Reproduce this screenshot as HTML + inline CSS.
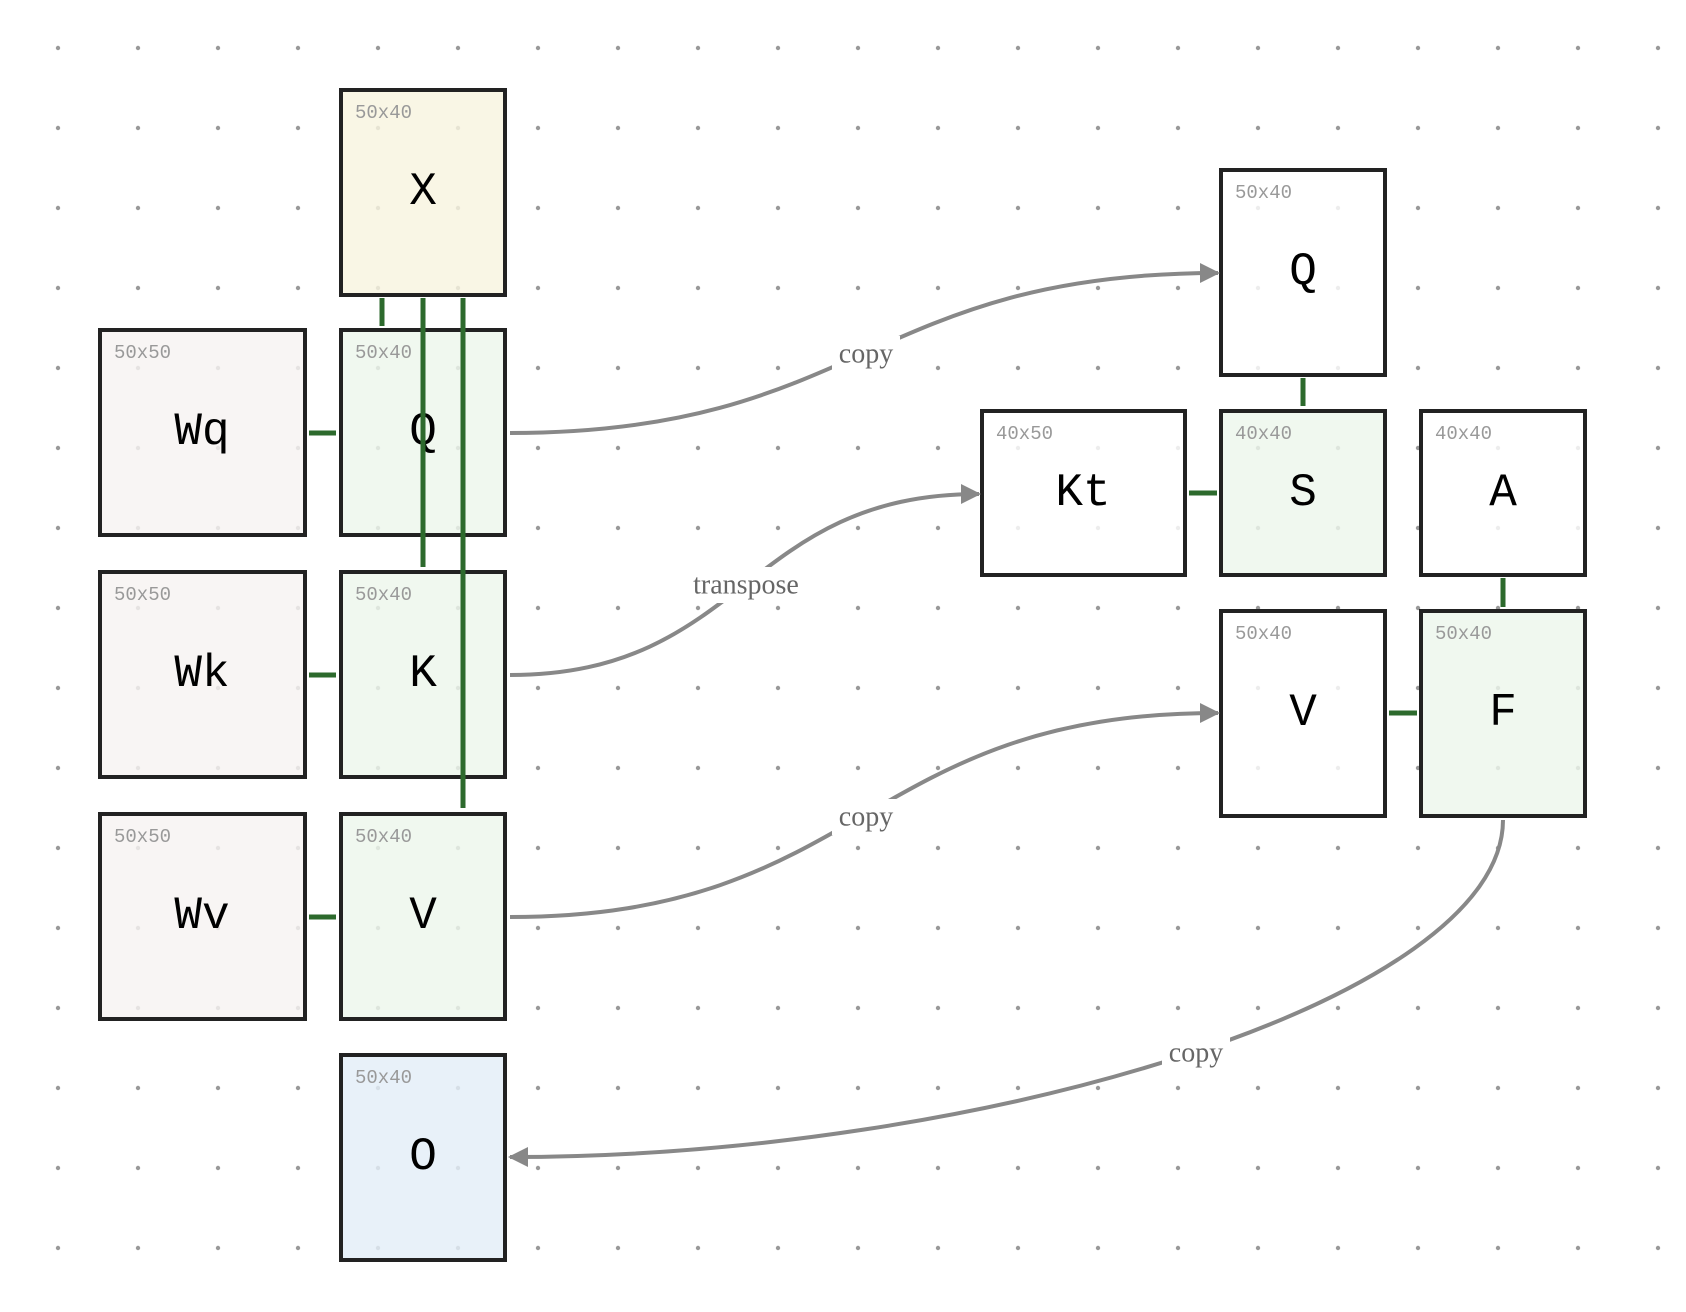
<!DOCTYPE html>
<html><head><meta charset="utf-8"><style>html,body{margin:0;padding:0;background:#fff}svg{display:block}</style></head>
<body>
<svg width="1686" height="1312" viewBox="0 0 1686 1312" xmlns="http://www.w3.org/2000/svg">
<defs>
<pattern id="dots" x="18" y="8" width="80" height="80" patternUnits="userSpaceOnUse"><circle cx="40" cy="40" r="2.2" fill="#999"/></pattern>
<marker id="ah" viewBox="0 0 10 10" refX="9" refY="5" markerWidth="5" markerHeight="5" orient="auto" markerUnits="strokeWidth"><path d="M0,0 L10,5 L0,10 z" fill="#888"/></marker>
</defs>
<rect x="18" y="8" width="1680" height="1280" fill="url(#dots)"/>
<g stroke="#222" stroke-width="4" fill-opacity="0.82">
<rect x="341" y="90" width="164" height="205" fill="#f8f4df"/>
<rect x="100" y="330" width="205" height="205" fill="#f7f3f2"/>
<rect x="341" y="330" width="164" height="205" fill="#edf7ec"/>
<rect x="100" y="572" width="205" height="205" fill="#f7f3f2"/>
<rect x="341" y="572" width="164" height="205" fill="#edf7ec"/>
<rect x="100" y="814" width="205" height="205" fill="#f7f3f2"/>
<rect x="341" y="814" width="164" height="205" fill="#edf7ec"/>
<rect x="341" y="1055" width="164" height="205" fill="#e3eef8"/>
<rect x="1221" y="170" width="164" height="205" fill="#fff"/>
<rect x="982" y="411" width="203" height="164" fill="#fff"/>
<rect x="1221" y="411" width="164" height="164" fill="#edf7ec"/>
<rect x="1421" y="411" width="164" height="164" fill="#fff"/>
<rect x="1221" y="611" width="164" height="205" fill="#fff"/>
<rect x="1421" y="611" width="164" height="205" fill="#edf7ec"/>
</g>
<g font-family="Liberation Mono, monospace" font-size="19" fill="#999">
<text x="355" y="118">50x40</text>
<text x="114" y="358">50x50</text><text x="355" y="358">50x40</text>
<text x="114" y="600">50x50</text><text x="355" y="600">50x40</text>
<text x="114" y="842">50x50</text><text x="355" y="842">50x40</text>
<text x="355" y="1083">50x40</text>
<text x="1235" y="198">50x40</text>
<text x="996" y="439">40x50</text><text x="1235" y="439">40x40</text><text x="1435" y="439">40x40</text>
<text x="1235" y="639">50x40</text><text x="1435" y="639">50x40</text>
</g>
<g font-family="Liberation Mono, monospace" font-size="46" fill="#000" text-anchor="middle" dominant-baseline="central">
<text x="423" y="192">X</text>
<text x="202" y="432">Wq</text><text x="423" y="432">Q</text>
<text x="202" y="674">Wk</text><text x="423" y="674">K</text>
<text x="202" y="916">Wv</text><text x="423" y="916">V</text>
<text x="423" y="1157">O</text>
<text x="1303" y="272">Q</text>
<text x="1083" y="493">Kt</text><text x="1303" y="493">S</text><text x="1503" y="493">A</text>
<text x="1303" y="713">V</text><text x="1503" y="713">F</text>
</g>
<g stroke="#2d6a2d" stroke-width="5" fill="none">
<line x1="309" y1="433" x2="336" y2="433"/>
<line x1="309" y1="675" x2="336" y2="675"/>
<line x1="309" y1="917" x2="336" y2="917"/>
<line x1="382" y1="298" x2="382" y2="326"/>
<line x1="423" y1="298" x2="423" y2="567"/>
<line x1="463" y1="298" x2="463" y2="808"/>
<line x1="1303" y1="378" x2="1303" y2="406"/>
<line x1="1189" y1="493" x2="1217" y2="493"/>
<line x1="1503" y1="578" x2="1503" y2="607"/>
<line x1="1389" y1="713" x2="1417" y2="713"/>
</g>
<g stroke="#888" stroke-width="4" fill="none" marker-end="url(#ah)">
<path d="M510,433 C860,433 870,273 1218,273"/>
<path d="M510,675 C745,675 745,494 979,494"/>
<path d="M510,917 C864,917 864,713 1218,713"/>
<path d="M1503,820 C1503,1000 980,1157 510,1157"/>
</g>
<g fill="#fff">
<rect x="832" y="336" width="68" height="36"/>
<rect x="684" y="567" width="126" height="36"/>
<rect x="832" y="799" width="68" height="36"/>
<rect x="1162" y="1035" width="68" height="36"/>
</g>
<g font-family="Liberation Serif, serif" font-size="28" fill="#666" text-anchor="middle" dominant-baseline="central">
<text x="866" y="354">copy</text>
<text x="746" y="585">transpose</text>
<text x="866" y="817">copy</text>
<text x="1196" y="1053">copy</text>
</g>
</svg>
</body></html>
